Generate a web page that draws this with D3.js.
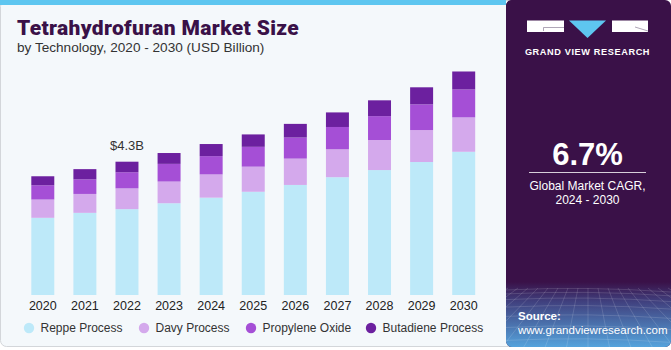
<!DOCTYPE html>
<html>
<head>
<meta charset="utf-8">
<script src="https://cdn.jsdelivr.net/npm/d3@7"></script>
<style>
  body { margin: 0; background: #ffffff; }
  svg { display: block; font-family: "Liberation Sans", Arial, sans-serif; }
</style>
</head>
<body>
<div id="chart"></div>
<script>
// Data
var years           =   ['2020','2021','2022','2023','2024','2025','2026','2027','2028','2029','2030'];
var reppe           =   [2.49, 2.65, 2.77, 2.96, 3.14, 3.33, 3.55, 3.80, 4.03, 4.29, 4.62];
var davy            =   [0.59, 0.61, 0.67, 0.70, 0.75, 0.81, 0.85, 0.90, 0.97, 1.03, 1.11];
var propylene       =   [0.46, 0.47, 0.52, 0.57, 0.59, 0.64, 0.68, 0.72, 0.77, 0.83, 0.90];
var butadiene       =   [0.29, 0.33, 0.34, 0.35, 0.39, 0.40, 0.44, 0.47, 0.51, 0.55, 0.58];
var series_keys     =   ['Reppe Process', 'Davy Process', 'Propylene Oxide', 'Butadiene Process'];
var series_colors   =   ['#bde9f9', '#d4a9ec', '#a54fd6', '#6c209f'];
var callout_year    =   '2022';
var callout_text    =   '$4.3B';

var chart_width     =   671;
var chart_height    =   350;
var panel_x         =   506;

var data = years.map(function(y, i) {
    return {
        year: y,
        'Reppe Process': reppe[i],
        'Davy Process': davy[i],
        'Propylene Oxide': propylene[i],
        'Butadiene Process': butadiene[i]
    };
});

var stack_data      =   d3.stack().keys(series_keys)(data);

var color           =   d3.scaleOrdinal().domain(series_keys).range(series_colors);

// Scales
var x_scale         =   d3.scaleBand()
    .domain(years)
    .range([21.75, 484.75])
    .paddingInner(0.454)
    .paddingOuter(0.227);

var y_scale         =   d3.scaleLinear()
    .domain([0, 6])
    .range([295, 109]);

// SVG
var svg             =   d3.select('#chart')
    .append('svg')
    .attr('width', chart_width)
    .attr('height', chart_height);

var defs = svg.append('defs');
var grad = defs.append('linearGradient')
    .attr('id', 'gridfade')
    .attr('x1', 0).attr('y1', 0).attr('x2', 0).attr('y2', 1);
grad.append('stop').attr('offset', '0%').attr('stop-color', '#3a1148');
grad.append('stop').attr('offset', '30%').attr('stop-color', '#40407e');
grad.append('stop').attr('offset', '100%').attr('stop-color', '#55a3dc');

var clip = defs.append('clipPath').attr('id', 'panelclip');
clip.append('rect')
    .attr('x', panel_x).attr('y', 0)
    .attr('width', chart_width - panel_x).attr('height', 347)
    .attr('rx', 6);

// Card background
svg.append('rect')
    .attr('x', 0.5).attr('y', 0.5)
    .attr('width', panel_x + 10).attr('height', 346)
    .attr('rx', 6)
    .style('fill', '#f4f8fb')
    .style('stroke', '#d3d6da');

svg.append('rect')
    .attr('x', 0).attr('y', 0)
    .attr('width', panel_x).attr('height', 5)
    .style('fill', '#5ec6f0');

// Right panel
var panel = svg.append('g').attr('clip-path', 'url(#panelclip)');
panel.append('rect')
    .attr('x', panel_x).attr('y', 0)
    .attr('width', chart_width - panel_x).attr('height', 347)
    .style('fill', '#3a1148');
panel.append('rect')
    .attr('x', panel_x).attr('y', 0)
    .attr('width', 12).attr('height', 12)
    .style('fill', '#3a1148');
panel.append('rect')
    .attr('x', panel_x).attr('y', 282)
    .attr('width', chart_width - panel_x).attr('height', 65)
    .style('fill', 'url(#gridfade)');

// grid lines in the panel bottom
var grid_g = panel.append('g')
    .style('stroke', '#ffffff')
    .style('stroke-opacity', 0.2)
    .style('stroke-width', 0.7)
    .style('fill', 'none');
d3.range(0, 9).forEach(function(i) {
    var yy = 290 + i * i * 0.9 + i * 3;
    grid_g.append('path').attr('d', 'M' + panel_x + ',' + yy + ' Q588,' + (yy - 4) + ' 671,' + (yy + 2));
});
d3.range(-10, 20).forEach(function(i) {
    var xt = 588 + i * 10;
    var xb = 588 + i * 22;
    grid_g.append('line').attr('x1', xt).attr('y1', 288).attr('x2', xb).attr('y2', 350);
});

// Logo
var logo = svg.append('g').attr('class', 'logo');
logo.append('rect').attr('x', 527).attr('y', 20.5).attr('width', 37).attr('height', 11.5).attr('fill', '#ffffff');
logo.append('path').attr('d', 'M543.5,31 L543.5,27.5 L564,27.5').attr('stroke', '#8c7f98').attr('stroke-width', 0.7).attr('fill', 'none');
logo.append('path').attr('d', 'M569,20.5 L606,20.5 L587.5,38 Z').attr('fill', '#5ec6f0');
logo.append('rect').attr('x', 612).attr('y', 20.5).attr('width', 36).attr('height', 11.5).attr('fill', '#ffffff');
logo.append('path').attr('d', 'M635,27 L648,31').attr('stroke', '#8c7f98').attr('stroke-width', 0.7);

svg.append('text')
    .attr('x', 587.5).attr('y', 55)
    .style('text-anchor', 'middle')
    .style('font-size', '9.2px')
    .style('font-weight', 'bold')
    .style('letter-spacing', '0.6px')
    .style('fill', '#ffffff')
    .text('GRAND VIEW RESEARCH');

svg.append('text')
    .attr('x', 587.5).attr('y', 165)
    .style('text-anchor', 'middle')
    .style('font-size', '31px')
    .style('font-weight', 'bold')
    .style('fill', '#ffffff')
    .text('6.7%');

svg.append('line')
    .attr('x1', 529).attr('x2', 646)
    .attr('y1', 172.5).attr('y2', 172.5)
    .style('stroke', '#ffffff')
    .style('stroke-opacity', 0.8);

svg.append('text')
    .attr('x', 587.5).attr('y', 190)
    .style('text-anchor', 'middle')
    .style('font-size', '12px')
    .style('fill', '#ffffff')
    .text('Global Market CAGR,');

svg.append('text')
    .attr('x', 587.5).attr('y', 204)
    .style('text-anchor', 'middle')
    .style('font-size', '12px')
    .style('fill', '#ffffff')
    .text('2024 - 2030');

svg.append('text')
    .attr('x', 518).attr('y', 320)
    .style('font-size', '11.5px')
    .style('font-weight', 'bold')
    .style('fill', '#ffffff')
    .text('Source:');

svg.append('text')
    .attr('x', 518).attr('y', 334)
    .style('font-size', '11.5px')
    .style('fill', '#ffffff')
    .text('www.grandviewresearch.com');

// Titles
svg.append('text')
    .attr('x', 17).attr('y', 35)
    .style('font-family', 'Roboto, "Liberation Sans", sans-serif')
    .style('font-size', '21px')
    .style('font-weight', 900)
    .style('letter-spacing', '0.35px')
    .style('fill', '#3a1148')
    .text('Tetrahydrofuran Market Size');

svg.append('text')
    .attr('x', 17).attr('y', 52)
    .style('font-size', '13.6px')
    .style('fill', '#333333')
    .text('by Technology, 2020 - 2030 (USD Billion)');

// Bars
var groups          =   svg.selectAll('g.series')
    .data(stack_data)
    .enter()
    .append('g')
    .attr('class', 'series')
    .style('fill', function(d) { return color(d.key); });

groups.selectAll('rect')
    .data(function(d) { return d; })
    .enter()
    .append('rect')
    .attr('x', function(d) { return x_scale(d.data.year); })
    .attr('y', function(d) { return y_scale(d[1]); })
    .attr('height', function(d) { return y_scale(d[0]) - y_scale(d[1]); })
    .attr('width', x_scale.bandwidth());

// Callout
var top_idx = years.indexOf(callout_year);
svg.append('text')
    .attr('x', x_scale(callout_year) + x_scale.bandwidth() / 2)
    .attr('y', y_scale(stack_data[stack_data.length - 1][top_idx][1]) - 12)
    .style('text-anchor', 'middle')
    .style('font-size', '13px')
    .style('fill', '#333333')
    .text(callout_text);

// X axis
var x_axis = d3.axisBottom(x_scale).tickSize(0).tickPadding(6);
var ax = svg.append('g')
    .attr('transform', 'translate(0,' + y_scale(0) + ')')
    .call(x_axis);
ax.select('.domain').remove();
ax.selectAll('text')
    .style('font-family', '"Liberation Sans", Arial, sans-serif')
    .style('font-size', '12.5px')
    .style('fill', '#222222');

// Legend
var legend_x = [29, 144, 251, 371];
var legend = svg.selectAll('g.legend')
    .data(series_keys)
    .enter()
    .append('g')
    .attr('class', 'legend')
    .attr('transform', function(d, i) { return 'translate(' + legend_x[i] + ',328)'; });

legend.append('circle')
    .attr('r', 5.2)
    .style('fill', function(d) { return color(d); });

legend.append('text')
    .attr('x', 11.5).attr('y', 4)
    .style('font-size', '12px')
    .style('fill', '#333333')
    .text(function(d) { return d; });
</script>
</body>
</html>
